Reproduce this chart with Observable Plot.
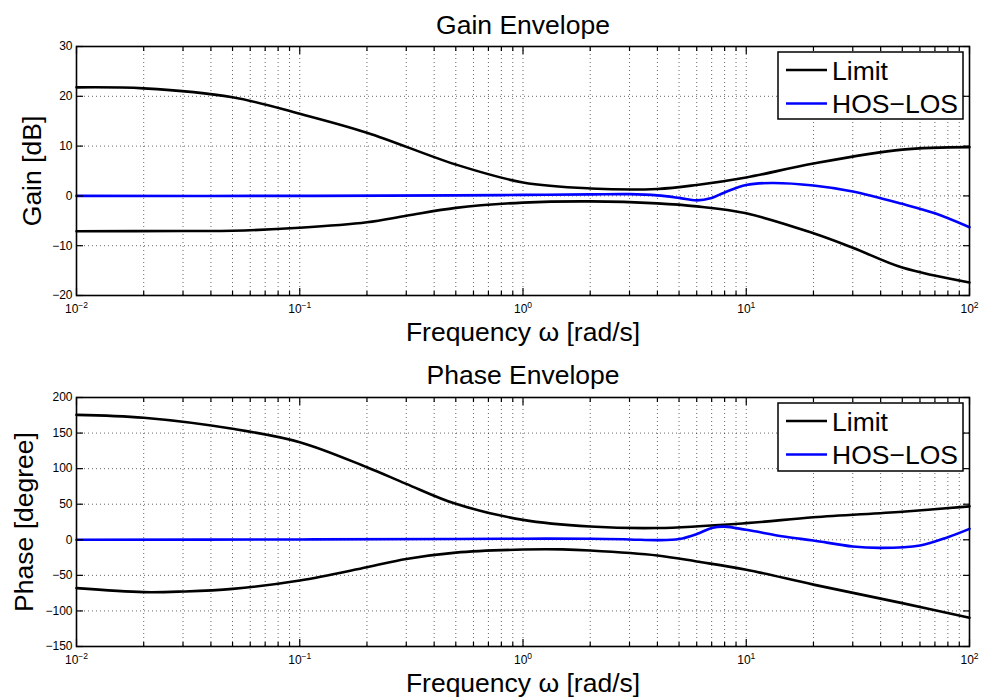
<!DOCTYPE html>
<html><head><meta charset="utf-8">
<script src="https://cdn.jsdelivr.net/npm/d3@7"></script>
<script src="https://cdn.jsdelivr.net/npm/@observablehq/plot@0.6"></script>
<style>
body{margin:0;background:#fff}
svg{display:block}
</style>
</head><body><div id="chart"></div>
<script>
// ---------- data ----------
const gainUpperFreq = [0.01, 0.02, 0.05, 0.1, 0.2, 0.5, 1, 2, 4, 6, 10, 20, 50, 100];
const gainUpper = [21.8, 21.6, 19.8, 16.5, 12.7, 6.3, 2.7, 1.5, 1.4, 2.2, 3.7, 6.5, 9.3, 9.8];
const gainLowerFreq = [0.01, 0.03, 0.05, 0.1, 0.2, 0.3, 0.5, 1, 2, 4, 6, 10, 20, 30, 50, 100];
const gainLower = [-7.1, -7.05, -7.0, -6.4, -5.3, -4.0, -2.4, -1.35, -1.1, -1.5, -2.1, -3.5, -7.5, -10.4, -14.4, -17.4];
const gainHosFreq = [0.01, 0.1, 0.5, 1, 2, 3, 4, 5, 6, 7, 8, 10, 13, 20, 30, 50, 70, 100];
const gainHos = [0, 0, 0.1, 0.2, 0.3, 0.35, 0.1, -0.4, -0.9, -0.4, 0.7, 2.2, 2.6, 2.1, 0.9, -1.6, -3.5, -6.3];

const phaseUpperFreq = [0.01, 0.02, 0.05, 0.1, 0.2, 0.3, 0.5, 1, 2, 4, 10, 20, 50, 100];
const phaseUpper = [175.6, 171.5, 156, 137.2, 102, 78.6, 50.5, 28, 18.7, 16.5, 23.4, 31.7, 39.5, 47];
const phaseLowerFreq = [0.01, 0.02, 0.03, 0.05, 0.1, 0.2, 0.3, 0.5, 1, 1.5, 2, 4, 6, 10, 20, 50, 100];
const phaseLower = [-68, -73.6, -72.7, -69, -57.2, -38.5, -27, -18, -13.7, -13.5, -15, -22, -30.5, -42, -63, -89, -109.7];
const phaseHosFreq = [0.01, 0.1, 0.5, 1, 2, 3, 4, 5, 6, 7, 8, 10, 15, 20, 30, 40, 60, 80, 100];
const phaseHos = [0, 0.5, 1, 1.5, 1.5, 0.5, -0.5, 1, 8, 16.6, 18.5, 14, 4.2, -1, -9.5, -11.4, -8, 3.7, 15.4];

const xMajor = [0.01, 0.1, 1, 10, 100];
const xMinor = [0.02, 0.03, 0.04, 0.05, 0.06, 0.07, 0.08, 0.09,
                0.2, 0.3, 0.4, 0.5, 0.6, 0.7, 0.8, 0.9,
                2, 3, 4, 5, 6, 7, 8, 9,
                20, 30, 40, 50, 60, 70, 80, 90];
const gainTicks = [-20, -10, 0, 10, 20, 30];
const phaseTicks = [-150, -100, -50, 0, 50, 100, 150, 200];
const seriesNames = ["Limit", "HOS\u2212LOS"];
const seriesColors = ["#000000", "#0000ff"];

const FONT = "'Liberation Sans', Arial, Helvetica, sans-serif";
const W = 982, ML = 76, MR = 13;

function rows(xs, ys) { return xs.map((x, i) => ({x, y: ys[i]})); }

function panel({title, ylabel, yDomain, yTicks, upper, lower, hos, height, mt, mb, titleDy, xlabDy, ylabDx, legendH}) {
  const grid = {stroke: "#000", strokeOpacity: 0.6, strokeWidth: 1, strokeDasharray: "1,3"};
  const noText = () => "";
  const lineOpts = {x: "x", y: "y", strokeWidth: 2.6, curve: "catmull-rom"};
  const svg = Plot.plot({
    width: W, height, marginLeft: ML, marginRight: MR, marginTop: mt, marginBottom: mb,
    style: {fontFamily: FONT, fontSize: "12px", background: "white", color: "black", overflow: "visible"},
    x: {type: "log", domain: [0.01, 100], axis: null},
    y: {domain: yDomain, axis: null},
    marks: [
      Plot.gridX(xMinor.concat(xMajor.slice(1, -1)), grid),
      Plot.gridY(yTicks.slice(1, -1), grid),
      Plot.line(upper, {...lineOpts, stroke: seriesColors[0]}),
      Plot.line(lower, {...lineOpts, stroke: seriesColors[0]}),
      Plot.line(hos, {...lineOpts, stroke: seriesColors[1]}),
      // inward ticks
      Plot.axisX(xMajor, {anchor: "bottom", tickSize: 7, dy: -7, tickFormat: noText, label: null, strokeWidth: 1.2}),
      Plot.axisX(xMajor, {anchor: "top", tickSize: 7, dy: 7, tickFormat: noText, label: null, strokeWidth: 1.2}),
      Plot.axisX(xMinor, {anchor: "bottom", tickSize: 4, dy: -4, tickFormat: noText, label: null, strokeWidth: 1.2}),
      Plot.axisX(xMinor, {anchor: "top", tickSize: 4, dy: 4, tickFormat: noText, label: null, strokeWidth: 1.2}),
      Plot.axisY(yTicks, {anchor: "left", tickSize: 7, dx: 7, tickFormat: noText, label: null, strokeWidth: 1.2}),
      Plot.axisY(yTicks, {anchor: "right", tickSize: 7, dx: -7, tickFormat: noText, label: null, strokeWidth: 1.2}),
      // tick labels
      Plot.axisX(xMajor, {anchor: "bottom", tickSize: 0, tickPadding: 9, label: null, fontSize: 12,
        tickFormat: d => "10^" + Math.round(Math.log10(d))}),
      Plot.axisY(yTicks, {anchor: "left", tickSize: 0, tickPadding: 4, label: null, fontSize: 12}),
      Plot.frame({stroke: "black", strokeWidth: 1.6}),
      // titles
      Plot.text([title], {text: d => d, frameAnchor: "top", dy: titleDy, lineAnchor: "bottom", textAnchor: "middle", fontSize: 26.5}),
      Plot.text(["Frequency \u03c9 [rad/s]"], {text: d => d, frameAnchor: "bottom", dy: xlabDy, lineAnchor: "bottom", textAnchor: "middle", fontSize: 26.5}),
      Plot.text([ylabel], {text: d => d, frameAnchor: "left", dx: ylabDx, rotate: -90, lineAnchor: "bottom", textAnchor: "middle", fontSize: 26.5})
    ]
  });
  const s = d3.select(svg);
  // superscript exponents
  s.selectAll('g[aria-label="x-axis tick label"] text').each(function () {
    const str = this.textContent;
    if (!str.includes("^")) return;
    const [b, e] = str.split("^");
    const t = d3.select(this);
    t.text(null);
    t.append("tspan").text(b);
    t.append("tspan").attr("dy", "-0.55em").attr("font-size", "8.5px").text(e.replace("-", "\u2212"));
  });
  // legend
  const right = W - MR, bw = 185;
  const bx = right - 6 - bw, by = mt + 6;
  const g = s.append("g").attr("font-family", FONT).attr("text-anchor", "start");
  g.append("rect").attr("x", bx).attr("y", by).attr("width", bw).attr("height", legendH)
    .attr("fill", "white").attr("stroke", "black").attr("stroke-width", 1.5);
  seriesNames.forEach((name, i) => {
    const ly = by + 18 + i * 33.5;
    g.append("line").attr("x1", bx + 8).attr("x2", bx + 49).attr("y1", ly).attr("y2", ly)
      .attr("stroke", seriesColors[i]).attr("stroke-width", 2.6);
    g.append("text").attr("x", bx + 54).attr("y", ly + 9.5).attr("text-anchor", "start")
      .attr("font-size", 26.5).attr("fill", "black").text(name);
  });
  return svg;
}

const root = document.getElementById("chart");
root.appendChild(panel({
  title: "Gain Envelope", ylabel: "Gain [dB]", yDomain: [-20, 30], yTicks: gainTicks,
  upper: rows(gainUpperFreq, gainUpper), lower: rows(gainLowerFreq, gainLower), hos: rows(gainHosFreq, gainHos),
  height: 349, mt: 46, mb: 54, titleDy: -13, xlabDy: 45, ylabDx: -36, legendH: 67
}));
root.appendChild(panel({
  title: "Phase Envelope", ylabel: "Phase [degree]", yDomain: [-150, 200], yTicks: phaseTicks,
  upper: rows(phaseUpperFreq, phaseUpper), lower: rows(phaseLowerFreq, phaseLower), hos: rows(phaseHosFreq, phaseHos),
  height: 349, mt: 48, mb: 52, titleDy: -13.5, xlabDy: 45, ylabDx: -44, legendH: 68
}));
</script>
</body></html>
